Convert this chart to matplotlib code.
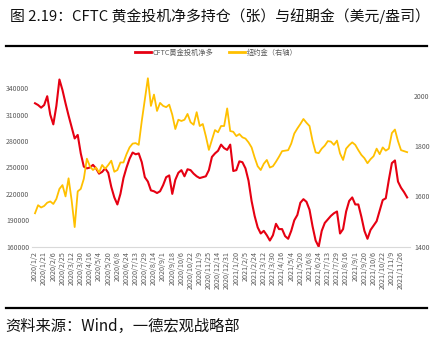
import numpy as np
import matplotlib
matplotlib.use("Agg")
import matplotlib.pyplot as plt
from matplotlib.lines import Line2D

plt.rcParams['font.family'] = ['Noto Sans CJK SC', 'DejaVu Sans']

# 日期标签（类别轴，每个标签之间 3 个采样点）
date_labels = [
    "2020/1/2", "2020/1/21", "2020/2/6", "2020/2/25", "2020/3/12", "2020/3/30",
    "2020/4/16", "2020/5/4", "2020/5/20", "2020/6/8", "2020/6/24", "2020/7/13",
    "2020/7/29", "2020/8/14", "2020/9/1", "2020/9/18", "2020/10/6", "2020/10/22",
    "2020/11/9", "2020/11/25", "2020/12/14", "2020/12/31", "2021/1/20", "2021/2/5",
    "2021/2/24", "2021/3/12", "2021/3/30", "2021/4/16", "2021/5/4", "2021/5/20",
    "2021/6/8", "2021/6/24", "2021/7/13", "2021/7/29", "2021/8/16", "2021/9/1",
    "2021/9/20", "2021/10/6", "2021/10/22", "2021/11/9", "2021/11/26",
]
pts_per_label = 3

# CFTC黄金投机净多（千张）
cftc_net_long = [
    323, 321, 318, 321, 331, 310, 299, 320, 350, 338,
    323, 309, 296, 283, 287, 266, 251, 249, 250, 253,
    249, 243, 245, 249, 244, 228, 216, 208, 220, 238,
    250, 260, 267, 265, 266, 256, 239, 234, 224, 223,
    221, 223, 230, 239, 241, 220, 236, 244, 247, 240,
    248, 247, 243, 240, 238, 239, 240, 247, 262, 266,
    269, 276, 272, 270, 276, 246, 247, 257, 256, 249,
    235, 212, 195, 182, 175, 178, 173, 167, 173, 186,
    180, 180, 172, 169, 178, 190, 196, 210, 214, 211,
    202, 183, 167, 160, 178, 187, 191, 195, 198, 200,
    175, 180, 200, 212, 216, 208, 208, 194, 178, 169,
    179, 184, 189, 201, 213, 215, 236, 255, 258, 234,
    227, 222, 216,
]

# 纽约金（美元/盎司，右轴）
comex_gold = [
    1533, 1565, 1556, 1562, 1575, 1580, 1570, 1590, 1630, 1645,
    1600, 1672, 1585, 1478, 1620, 1630, 1670, 1750, 1720, 1705,
    1715, 1695, 1725, 1710, 1725, 1742, 1698, 1705, 1735, 1735,
    1768, 1795, 1810, 1812, 1805, 1900, 1985, 2070, 1960, 2005,
    1940, 1972, 1960, 1955, 1965, 1925, 1868, 1905, 1900, 1905,
    1928, 1895, 1885, 1935, 1880, 1888, 1840, 1785, 1825, 1864,
    1855, 1880, 1880, 1950, 1860, 1857, 1840, 1848, 1835, 1830,
    1815, 1795, 1755, 1720, 1705, 1730, 1745, 1715, 1720, 1738,
    1758, 1780, 1782, 1784, 1810, 1850, 1870, 1888, 1908, 1893,
    1880, 1820, 1775, 1772, 1790, 1802, 1820, 1818, 1805, 1822,
    1771, 1745, 1790, 1804, 1815, 1805, 1784, 1765, 1752, 1732,
    1748, 1760, 1790, 1768, 1795, 1782, 1790, 1852, 1866, 1820,
    1784, 1780, 1776,
]

x = np.arange(len(cftc_net_long)) / pts_per_label
red = "#E60012"
gold = "#FFC000"
grey = "#595959"

fig = plt.figure(figsize=(4.34, 3.39), dpi=100)
ax = fig.add_axes([32 / 434, 1 - 246.7 / 339, 378 / 434, 176 / 339])
ax2 = ax.twinx()

ax.plot(x, np.array(cftc_net_long) * 1000, color=red, lw=1.5)
ax2.plot(x, comex_gold, color=gold, lw=1.3)

ax.set_xlim(-0.33, 40.98)
ax.set_ylim(160000, 360000)
ax.set_yticks(range(160000, 340001, 30000))
ax2.set_ylim(1400, 2100)
ax2.set_yticks([1400, 1600, 1800, 2000])
ax.set_xticks(range(len(date_labels)))
ax.set_xticklabels(date_labels, rotation=90)

for a in (ax, ax2):
    for s in a.spines.values():
        s.set_visible(False)
    a.tick_params(length=0, colors=grey, labelsize=5)
ax.spines['bottom'].set_visible(True)
ax.spines['bottom'].set_color("#D9D9D9")
ax.tick_params(axis='y', pad=2)
ax.tick_params(axis='x', pad=3, labelsize=5.2)
ax2.tick_params(axis='y', pad=3)

# 图例
handles = [Line2D([], [], color=red, lw=2), Line2D([], [], color=gold, lw=2)]
fig.legend(handles, ["CFTC黄金投机净多", "纽约金（右轴）"], loc='center',
           bbox_to_anchor=(216 / 434, 1 - 53 / 339), ncol=2, frameon=False,
           fontsize=5.2, labelcolor=grey, handlelength=2.2, handletextpad=0.2,
           columnspacing=2.2)

# 标题、分隔线、来源
fig.text(10 / 434, 1 - 16.5 / 339, "图 2.19：CFTC 黄金投机净多持仓（张）与纽期金（美元/盎司）",
         fontsize=10.7, va='center', ha='left', color="#111111")
fig.add_artist(Line2D([6 / 434, 427 / 434], [1 - 46 / 339] * 2, color='black', lw=1.6))
fig.add_artist(Line2D([6 / 434, 427 / 434], [1 - 308 / 339] * 2, color='black', lw=1.6))
fig.text(5 / 434, 1 - 326 / 339, "资料来源：Wind，一德宏观战略部",
         fontsize=11, va='center', ha='left', color="#111111")

fig.savefig("out.png", dpi=100)
